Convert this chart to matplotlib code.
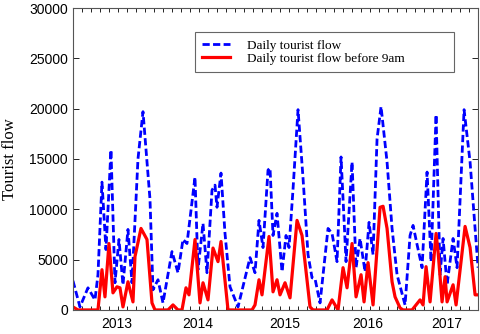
import matplotlib
matplotlib.use("Agg")
from matplotlib import pyplot as plt
from matplotlib.ticker import MultipleLocator

# time step (sample position along the axis) and flow values
blue_t = [0, 7, 15, 22, 25, 29, 33, 38, 42, 46, 50, 55, 59, 65, 70, 77, 80, 85, 90,
          99, 105, 110, 114, 122, 125, 130, 134, 139, 142, 144, 148, 152, 157, 165,
          177, 182, 186, 190, 195, 197, 200, 204, 209, 213, 216, 220, 225, 230, 235,
          239, 242, 247, 255, 259, 264, 268, 273, 279, 283, 287, 292, 296, 300, 304,
          308, 314, 319, 324, 332, 337, 340, 344, 349, 354, 358, 363, 367, 370, 374,
          380, 384, 391, 397, 402, 405]
blue_v = [2900, 300, 2200, 1000, 3500, 12700, 6000, 15900, 2700, 7000, 2500, 8000, 2700,
          15000, 19700, 11000, 2000, 3000, 700, 5800, 3700, 7000, 6600, 13200, 4000, 8600,
          3700, 11900, 12400, 10200, 13600, 7600, 2300, 300, 5200, 3700, 8900, 6200,
          13900, 14100, 7400, 9600, 3800, 7400, 6200, 12000, 19900, 13100, 5500, 3200,
          3100, 700, 8100, 7600, 4800, 15200, 4800, 14700, 4200, 7100, 3800, 8700, 5500,
          17000, 20200, 14700, 8100, 3500, 500, 7400, 8400, 6500, 4200, 13700, 4800,
          19400, 3500, 7100, 2500, 7100, 4200, 19900, 14700, 8100, 4200]

red_t = [0, 5, 25, 29, 32, 36, 40, 44, 47, 50, 55, 60, 62, 68, 74, 79, 82, 95, 100,
         105, 109, 113, 116, 122, 127, 130, 135, 140, 145, 148, 155, 179, 182, 186, 189,
         196, 200, 204, 207, 212, 217, 224, 229, 237, 240, 254, 259, 265, 270, 274, 279,
         283, 288, 291, 295, 300, 307, 310, 314, 319, 322, 327, 330, 339, 347, 350, 353,
         357, 363, 365, 369, 372, 374, 380, 383, 392, 397, 402, 405]
red_v = [300, 0, 0, 4000, 1300, 6600, 1700, 2300, 2200, 300, 2800, 800, 5300, 8100,
         7000, 700, 0, 0, 500, 0, 0, 2200, 1500, 7000, 700, 2700, 1000, 6150, 4800, 6800,
         0, 0, 500, 3000, 1500, 7300, 1800, 3000, 1500, 2700, 1200, 8900, 7400, 300, 0,
         0, 1000, 0, 4200, 2200, 6600, 1300, 3500, 800, 4700, 500, 10200, 10300, 8100,
         2800, 1300, 200, 0, 0, 1000, 500, 4300, 800, 7600, 5800, 800, 3300, 800, 2500,
         500, 8300, 6200, 1500, 1500]

year_pos = [44, 125, 212, 295, 374]
year_labels = ["2013", "2014", "2015", "2016", "2017"]

fig = plt.figure(figsize=(4.8, 3.34), dpi=100)
ax = fig.add_axes([0.152, 0.072, 0.844, 0.904])

ax.plot(blue_t, blue_v, color="#0000ff", lw=2.0, dashes=(2.6, 1.2),
        label="Daily tourist flow")
ax.plot(red_t, red_v, color="#ff0000", lw=2.3, label="Daily tourist flow before 9am")

ax.set_xlim(0, 405)
ax.set_ylim(0, 30000)
ax.set_yticks(range(0, 30001, 5000))
ax.set_xticks(year_pos)
ax.set_xticklabels(year_labels)
ax.xaxis.set_minor_locator(MultipleLocator(9))
ax.tick_params(axis="x", which="major", length=0, pad=5)
ax.tick_params(axis="x", which="minor", direction="in", length=3, top=True, width=0.6)
ax.tick_params(axis="y", direction="in", length=4, right=True, width=0.6)
for lab in ax.get_xticklabels() + ax.get_yticklabels():
    lab.set_fontfamily("Liberation Sans")
    lab.set_fontsize(10)
for s in ax.spines.values():
    s.set_color("#555555")
    s.set_linewidth(0.8)

ax.set_ylabel("Tourist flow", family="Liberation Serif", fontsize=12, labelpad=8)

# legend box stretched like the original (extra space on the right)
leg = ax.legend(loc="upper left", bbox_to_anchor=(0.301, 0.778, 0.64, 0.142),
                mode="expand", prop={"family": "Liberation Serif", "size": 9.5},
                fancybox=False, edgecolor="#666666", framealpha=1,
                handlelength=2.1, handletextpad=1.3, labelspacing=0.05,
                borderpad=0.55, borderaxespad=0)
leg.get_frame().set_linewidth(0.8)

fig.savefig("out.png", dpi=100)
